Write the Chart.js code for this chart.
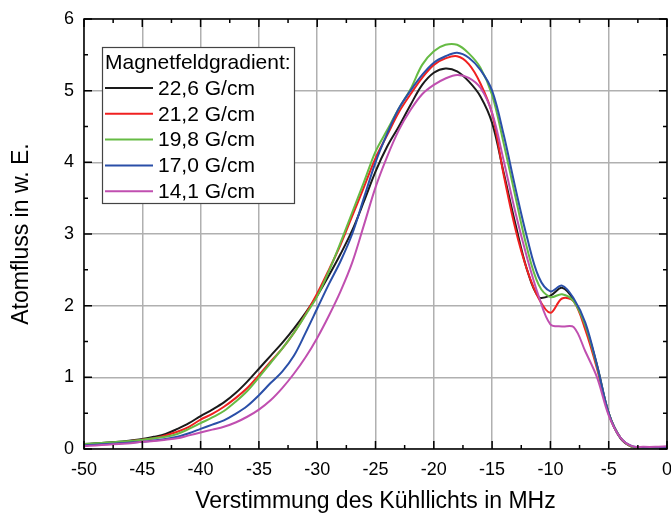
<!DOCTYPE html>
<html><head><meta charset="utf-8">
<script src="https://cdn.jsdelivr.net/npm/chart.js@4.4.1/dist/chart.umd.min.js"></script>
<style>html,body{margin:0;padding:0;background:#fff}canvas{display:block}</style>
</head><body>
<canvas id="c" width="671" height="515"></canvas>
<script>
// Detuning (MHz), x values
const detuning = [-50,-49,-48,-47,-46,-45,-44,-43,-42,-41,-40,-39,-38,-37,-36,-35,-34,-33,-32,-31,-30,-29,-28,-27,-26,-25,-24,-23,-22,-21,-20,-19,-18,-17,-16,-15,-14,-13,-12,-11,-10,-9,-8,-7,-6,-5,-4,-3,-2,-1,0];
// Atom flux (arb. units) per magnetic field gradient
const g226 = [0.07,0.08,0.09,0.10,0.12,0.14,0.17,0.21,0.28,0.36,0.46,0.55,0.65,0.78,0.94,1.12,1.30,1.48,1.68,1.90,2.14,2.42,2.72,3.05,3.45,3.87,4.22,4.50,4.80,5.08,5.25,5.31,5.27,5.13,4.92,4.55,3.85,3.14,2.50,2.12,2.14,2.25,2.08,1.72,1.17,0.50,0.15,0.03,0.02,0.02,0.02];
const g212 = [0.06,0.07,0.08,0.09,0.11,0.13,0.15,0.19,0.24,0.31,0.41,0.49,0.59,0.71,0.85,1.03,1.22,1.40,1.62,1.88,2.17,2.50,2.85,3.25,3.65,4.06,4.38,4.70,4.95,5.18,5.36,5.45,5.48,5.37,5.10,4.68,3.82,3.07,2.50,2.10,1.90,2.10,2.06,1.66,1.12,0.49,0.16,0.03,0.02,0.02,0.02];
const g198 = [0.07,0.08,0.09,0.10,0.11,0.13,0.15,0.17,0.21,0.28,0.36,0.44,0.53,0.66,0.81,1.00,1.20,1.40,1.62,1.87,2.13,2.48,2.88,3.30,3.72,4.15,4.45,4.75,5.02,5.36,5.55,5.64,5.64,5.52,5.32,4.94,4.26,3.52,2.80,2.29,2.12,2.16,2.06,1.72,1.15,0.50,0.16,0.03,0.01,0.01,0.01];
const g170 = [0.05,0.06,0.07,0.08,0.09,0.10,0.12,0.14,0.17,0.22,0.28,0.34,0.40,0.49,0.60,0.75,0.92,1.08,1.30,1.62,1.96,2.30,2.62,3.00,3.50,4.00,4.40,4.75,5.00,5.22,5.39,5.48,5.53,5.46,5.29,5.00,4.38,3.64,2.95,2.40,2.20,2.28,2.10,1.76,1.17,0.50,0.16,0.04,0.02,0.02,0.02];
const g141 = [0.04,0.05,0.06,0.07,0.08,0.10,0.11,0.13,0.15,0.19,0.23,0.27,0.31,0.37,0.45,0.55,0.68,0.85,1.05,1.28,1.55,1.86,2.20,2.60,3.12,3.65,4.08,4.45,4.73,4.95,5.08,5.17,5.22,5.18,5.04,4.69,4.02,3.30,2.67,2.13,1.74,1.71,1.70,1.36,1.00,0.47,0.16,0.04,0.03,0.03,0.04];
const seriesLabels = ['22,6 G/cm','21,2 G/cm','19,8 G/cm','17,0 G/cm','14,1 G/cm'];
const seriesColors = ['#1a1a1a','#f02020','#66bb44','#2a4fa8','#c04fb0'];
const legendTitle = 'Magnetfeldgradient:';
const xTickValues = [-50,-45,-40,-35,-30,-25,-20,-15,-10,-5,0];
const yTickValues = [0,1,2,3,4,5,6];
const xTitle = 'Verstimmung des Kühllichts in MHz';
const yTitle = 'Atomfluss in w. E.';

const FONT = "'Liberation Sans', Arial, Helvetica, sans-serif";
Chart.defaults.font.family = FONT;
Chart.defaults.color = '#000';

const allSeries = [g226,g212,g198,g170,g141];
const datasets = allSeries.map((s,i)=>({
  label: seriesLabels[i],
  data: detuning.map((x,j)=>({x:x,y:s[j]})),
  borderColor: seriesColors[i],
  backgroundColor: seriesColors[i],
  borderWidth: 2,
  pointRadius: 0,
  tension: 0.35,
  fill: false,
  order: 5 - i
}));

const framePlugin = {
  id:'frame',
  afterDatasetsDraw(chart){
    const ctx = chart.ctx, a = chart.chartArea;
    const xs = chart.scales.x, ys = chart.scales.y;
    ctx.save();
    ctx.strokeStyle = '#000';
    ctx.lineWidth = 1.5;
    ctx.beginPath();
    for (let v = xs.min; v <= xs.max + 1e-9; v += 2.5) {
      const p = xs.getPixelForValue(v);
      const len = (Math.abs(v % 5) < 1e-6) ? 8 : 4;
      ctx.moveTo(p, a.bottom); ctx.lineTo(p, a.bottom - len);
      ctx.moveTo(p, a.top); ctx.lineTo(p, a.top + len);
    }
    for (let v = ys.min; v <= ys.max + 1e-9; v += 0.5) {
      const p = ys.getPixelForValue(v);
      const len = (Math.abs(v % 1) < 1e-6) ? 8 : 4;
      ctx.moveTo(a.left, p); ctx.lineTo(a.left + len, p);
      ctx.moveTo(a.right, p); ctx.lineTo(a.right - len, p);
    }
    ctx.stroke();
    ctx.strokeRect(a.left, a.top, a.right - a.left, a.bottom - a.top);
    ctx.restore();
  }
};

const legendPlugin = {
  id:'boxLegend',
  afterDraw(chart){
    const ctx = chart.ctx;
    const bx = 102.5, by = 47.5, bw = 192, bh = 156;
    ctx.save();
    ctx.fillStyle = '#fff';
    ctx.fillRect(bx, by, bw, bh);
    ctx.strokeStyle = '#444';
    ctx.lineWidth = 1.2;
    ctx.strokeRect(bx, by, bw, bh);
    ctx.font = '21px ' + FONT;
    ctx.fillStyle = '#000';
    ctx.textBaseline = 'middle';
    ctx.textAlign = 'left';
    ctx.fillText(legendTitle, 105, 63);
    chart.data.datasets.forEach((d,i)=>{
      const y = 88 + i*25.8;
      ctx.strokeStyle = d.borderColor;
      ctx.lineWidth = 2;
      ctx.beginPath(); ctx.moveTo(105, y); ctx.lineTo(153, y); ctx.stroke();
      ctx.fillStyle = '#000';
      ctx.fillText(d.label, 158, y + 1);
    });
    ctx.restore();
  }
};

new Chart(document.getElementById('c'), {
  type:'line',
  data:{datasets:datasets},
  plugins:[framePlugin, legendPlugin],
  options:{
    responsive:false,
    animation:false,
    devicePixelRatio:1,
    layout:{padding:{top:19,right:4,left:0,bottom:0}},
    plugins:{legend:{display:false},tooltip:{enabled:false}},
    scales:{
      x:{
        type:'linear', min:-50, max:0,
        afterBuildTicks(s){ s.ticks = xTickValues.map(v=>({value:v})); },
        ticks:{font:{size:18}, color:'#000', padding:10, maxRotation:0, autoSkip:false, callback:v=>String(v)},
        grid:{color:'#b0b0b0', lineWidth:1.5, drawTicks:false},
        border:{display:false},
        title:{display:true, text:xTitle, font:{size:23}, color:'#000', padding:0},
        afterFit(s){ s.height = 66; s.paddingLeft = 0; s.paddingRight = 0; }
      },
      y:{
        type:'linear', min:0, max:6,
        afterBuildTicks(s){ s.ticks = yTickValues.map(v=>({value:v})); },
        ticks:{font:{size:18}, color:'#000', padding:10, callback:v=>String(v)},
        grid:{color:'#b0b0b0', lineWidth:1.5, drawTicks:false},
        border:{display:false},
        title:{display:true, text:yTitle, font:{size:23}, color:'#000', padding:{top:8,bottom:8}},
        afterFit(s){ s.width = 84; s.paddingTop = 0; s.paddingBottom = 0; }
      }
    }
  }
});
</script>
</body></html>
